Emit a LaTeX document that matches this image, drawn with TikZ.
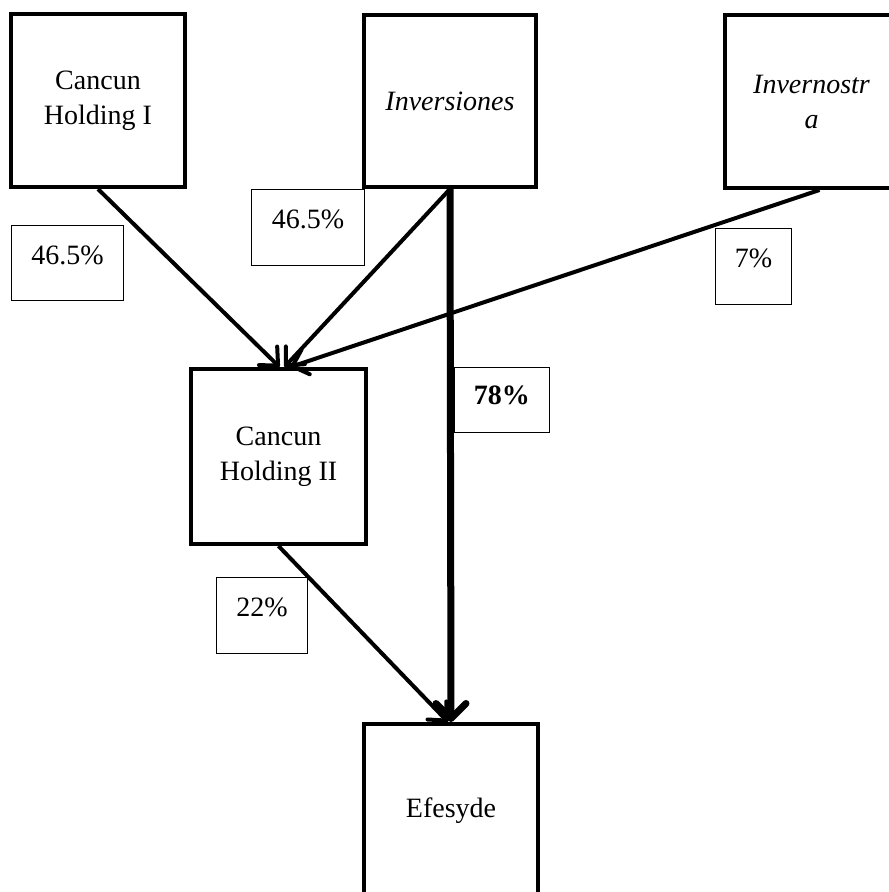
\documentclass[tikz,border=0pt]{standalone}
\usepackage{fontspec}
\setmainfont{Liberation Serif}
\usetikzlibrary{arrows.meta}
\begin{document}
\begin{tikzpicture}[x=1pt,y=-1pt,
  ent/.style={draw, line width=4pt, rectangle, inner sep=0pt, align=center, font=\fontsize{28}{35}\selectfont},
  pct/.style={draw, line width=0.9pt, rectangle, inner sep=0pt, anchor=north west, font=\fontsize{28}{34}\selectfont},
  link/.style={line width=4pt, -{Straight Barb[length=14pt,width=26pt,round]}},
  ]
\useasboundingbox (0,0) rectangle (889,892);
\clip (0,0) rectangle (889,892);
% entities
\node[ent, minimum width=174pt, minimum height=173pt] (chi) at (98,100.5) {Cancun\\Holding I};
\node[ent, minimum width=172pt, minimum height=172pt] (inv) at (450,101) {\itshape Inversiones};
\node[ent, minimum width=173pt, minimum height=173pt] (inn) at (811.5,101.5) {\itshape Invernostr\\\itshape a};
\node[ent, minimum width=175pt, minimum height=175pt] (chii) at (278.5,456.5) {Cancun\\Holding II};
\node[ent, minimum width=174pt, minimum height=174pt] (efe) at (451,811) {Efesyde};
% percentage labels
\node[pct, minimum width=112pt, text height=39.5pt, text depth=35.5pt] (l1) at (11,225) {46.5\%};
\node[pct, minimum width=113pt, text height=39.5pt, text depth=36.5pt] (l2) at (251,189) {46.5\%};
\node[pct, minimum width=76pt, text height=39.5pt, text depth=36.5pt] (l3) at (715,228) {7\%};
\node[pct, minimum width=95pt, text height=37.5pt, text depth=27.5pt, font=\fontsize{28}{34}\selectfont\bfseries] (l4) at (454,367) {78\%};
\node[pct, minimum width=91pt, text height=39.5pt, text depth=36.5pt] (l5) at (216,577) {22\%};
% connectors
\draw[link] (chi.south) -- ([xshift=1pt]chii.north);
\draw[link] (inv.south) -- ([xshift=6pt]chii.north);
\draw[link] ([xshift=8pt]inn.south) -- ([xshift=12pt]chii.north);
\draw[link, line width=7pt, -{Straight Barb[length=15pt,width=30pt,round]}] (inv.south) -- (efe.north);
\draw[link] (chii.south) -- ([xshift=-3pt]efe.north);
\end{tikzpicture}
\end{document}
